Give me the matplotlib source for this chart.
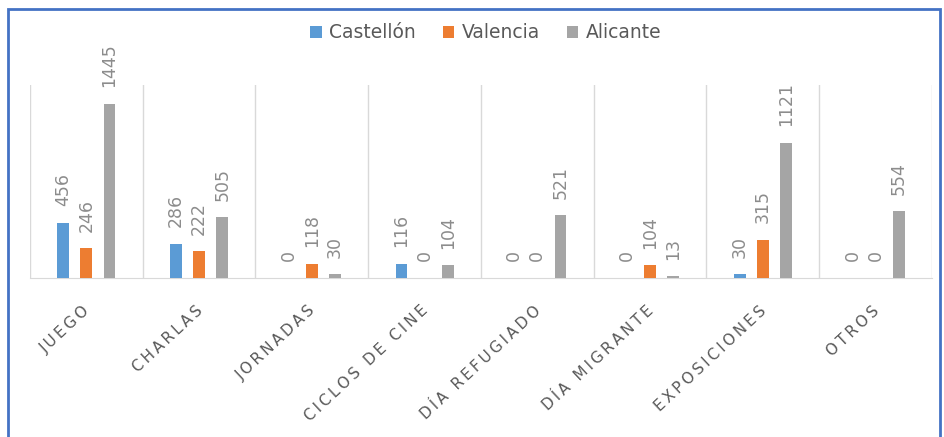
import matplotlib
matplotlib.use("Agg")
import matplotlib.pyplot as plt
from matplotlib.patches import Patch, Rectangle
import numpy as np

categories = ["JUEGO", "CHARLAS", "JORNADAS", "CICLOS DE CINE", "DÍA REFUGIADO",
              "DÍA MIGRANTE", "EXPOSICIONES", "OTROS"]
series_names = ["Castellón", "Valencia", "Alicante"]
castellon = [456, 286, 0, 116, 0, 0, 30, 0]
valencia = [246, 222, 118, 0, 0, 104, 315, 0]
alicante = [1445, 505, 30, 104, 521, 13, 1121, 554]
colors = ["#5B9BD5", "#ED7D31", "#A5A5A5"]

W, H = 945, 437
fig = plt.figure(figsize=(W / 100, H / 100), dpi=100)
fig.patch.set_facecolor("white")

ax = fig.add_axes([30 / W, 1 - 278 / H, (932 - 30) / W, (278 - 85.4) / H])
x = np.arange(len(categories))
offs = [-0.205, 0, 0.205]
bw = 0.105
data = [castellon, valencia, alicante]
for vals, off, c in zip(data, offs, colors):
    bars = ax.bar(x + off, vals, width=bw, color=c, zorder=3)
    for b, v in zip(bars, vals):
        ax.annotate(str(v), (b.get_x() + b.get_width() / 2, v), xytext=(0, 12),
                    textcoords="offset points", rotation=90, ha="center", va="bottom",
                    fontsize=12.5, color="#8C8C8C")

ax.set_xlim(-0.5, len(categories) - 0.5)
ax.set_ylim(0, 1600)
for xv in np.arange(-0.5, len(categories), 1.0):
    ax.axvline(xv, color="#D9D9D9", lw=1, zorder=1)
for s in ["top", "left", "right"]:
    ax.spines[s].set_visible(False)
ax.spines["bottom"].set_color("#D9D9D9")
ax.set_yticks([])
ax.set_xticks([])
ax.set_facecolor("none")

spaced = ["\u2009".join(list(c)) for c in categories]
for xi, lab in zip(x, spaced):
    ax.annotate(lab, (xi, 0), xytext=(-3, -18), textcoords="offset points",
                rotation=43, rotation_mode="anchor", ha="right", va="top",
                fontsize=11, color="#595959")

handles = [Patch(facecolor=c, edgecolor="none") for c in colors]
fig.legend(handles, series_names, loc="center", bbox_to_anchor=(486 / W, 1 - 33 / H),
           ncol=3, frameon=False, fontsize=13.5, labelcolor="#595959",
           handlelength=0.6, handleheight=0.6, handletextpad=0.4, columnspacing=1.45)

fig.patches.append(Rectangle((8 / W, -0.05), (940 - 8) / W, 1.05 - 9 / H,
                             transform=fig.transFigure, fill=False,
                             edgecolor="#4472C4", lw=2))

fig.savefig("out.png", dpi=100)
